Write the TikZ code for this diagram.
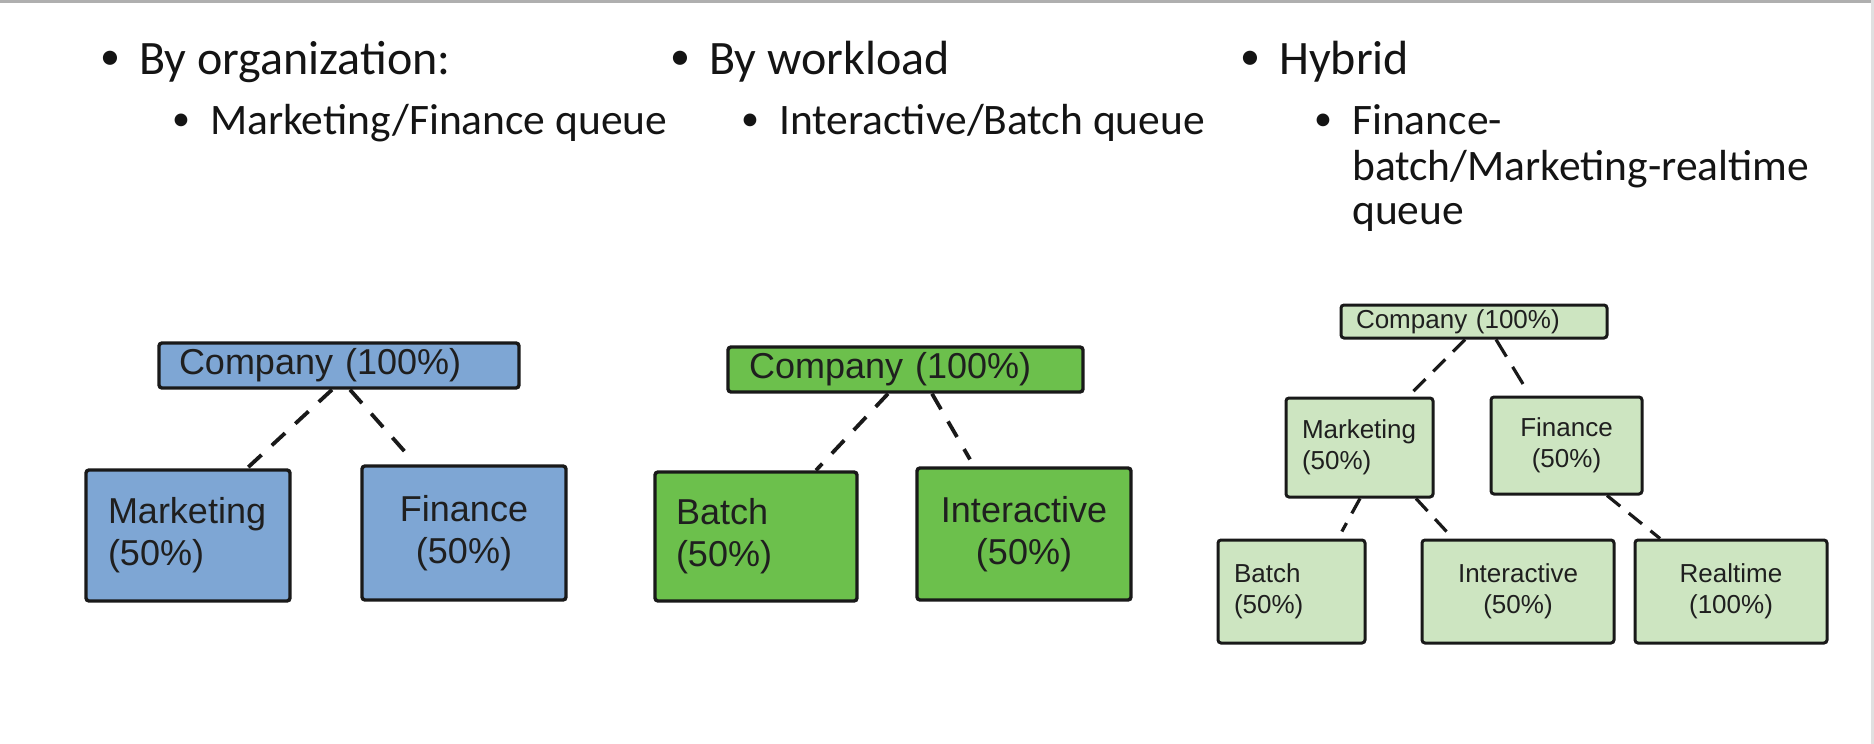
\documentclass[tikz,border=0pt]{standalone}
\usepackage{fontspec}
\setmainfont{Carlito}
\newfontfamily\arialf{Liberation Sans}
\definecolor{orgblue}{RGB}{126,166,212}
\definecolor{wlgreen}{RGB}{108,192,76}
\definecolor{hylight}{RGB}{205,229,193}
\definecolor{edgec}{RGB}{25,25,25}
\definecolor{framegray}{RGB}{175,175,175}
\begin{document}
\begin{tikzpicture}[x=1pt,y=-1pt,
  bigbox/.style={draw=edgec, line width=3.4pt, rounded corners=3pt, inner sep=0pt,
    font=\arialf\fontsize{36}{42}\selectfont, text=black!88},
  smallbox/.style={draw=edgec, line width=3pt, rounded corners=3pt, inner sep=0pt,
    font=\arialf\fontsize{26}{31}\selectfont, text=black!88},
  conn/.style={draw=edgec, line width=3.8pt, dash pattern=on 18pt off 14pt},
  sconn/.style={draw=edgec, line width=3.2pt, dash pattern=on 17pt off 11pt},
  head/.style={anchor=base west, inner sep=0pt, font=\fontsize{48}{58}\selectfont, text=black!92},
  sub/.style={anchor=base west, inner sep=0pt, font=\fontsize{43.5}{52}\selectfont, text=black!92},
  hbul/.style={anchor=center, inner sep=0pt, font=\fontsize{40}{46}\selectfont, text=black!92},
  sbul/.style={anchor=center, inner sep=0pt, font=\fontsize{36}{42}\selectfont, text=black!92},
]
\useasboundingbox (0,0) rectangle (1874,744);
\fill[white] (0,0) rectangle (1874,744);
\fill[framegray] (0,0) rectangle (1874,2.5);
\fill[black!12] (1871,0) rectangle (1874,744);

% bullets and texts
\node[hbul] (b1) at (110,60) {•};
\node[head] (t1) at (139,74) {By organization:};
\node[sbul] (b1s) at (181,122) {•};
\node[sub]  (t1s) at (210,134) {Marketing/Finance queue};

\node[hbul] (b2) at (680,60) {•};
\node[head] (t2) at (709,74) {By workload};
\node[sbul] (b2s) at (750,122) {•};
\node[sub]  (t2s) at (779,134) {Interactive/Batch queue};

\node[hbul] (b3) at (1250,60) {•};
\node[head] (t3) at (1279,74) {Hybrid};
\node[sbul] (b3s) at (1323,122) {•};
\node[sub]  (t3a) at (1352,134) {Finance-};
\node[sub]  (t3b) at (1352,180) {batch/Marketing-realtime};
\node[sub]  (t3c) at (1352,224) {queue};

% By organization tree
\node[bigbox, fill=orgblue, minimum width=360pt, minimum height=45pt, text width=320pt, align=left]
  (oc) at (339,365.5) {Company (100\%)};
\node[bigbox, fill=orgblue, minimum width=204pt, minimum height=131pt, text width=160pt, align=left]
  (om) at (188,535.5) {Marketing\\(50\%)};
\node[bigbox, fill=orgblue, minimum width=204pt, minimum height=134pt, text width=180pt, align=center]
  (of) at (464,533) {Finance\\(50\%)};
\draw[conn] ([xshift=-7pt]oc.south) -- ([xshift=59pt]om.north);
\draw[conn, shorten >=10pt] ([xshift=11pt]oc.south) -- ([xshift=-48pt]of.north);

% By workload tree
\node[bigbox, fill=wlgreen, minimum width=355pt, minimum height=45pt, text width=313pt, align=left]
  (wc) at (905.5,369.5) {Company (100\%)};
\node[bigbox, fill=wlgreen, minimum width=202pt, minimum height=129pt, text width=160pt, align=left]
  (wb) at (756,536.5) {Batch\\(50\%)};
\node[bigbox, fill=wlgreen, minimum width=214pt, minimum height=132pt, text width=200pt, align=center]
  (wi) at (1024,534) {Interactive\\(50\%)};
\draw[conn] ([xshift=-17.5pt]wc.south) -- ([xshift=60pt]wb.north);
\draw[conn, shorten >=8pt] ([xshift=26.5pt]wc.south) -- ([xshift=-50pt]wi.north);

% Hybrid tree
\node[smallbox, fill=hylight, minimum width=266pt, minimum height=33pt, text width=236pt, align=left]
  (hc) at (1474,321.5) {Company (100\%)};
\node[smallbox, fill=hylight, minimum width=147pt, minimum height=99pt, text width=115pt, align=left]
  (hm) at (1359.5,447.5) {Marketing\\(50\%)};
\node[smallbox, fill=hylight, minimum width=151pt, minimum height=97pt, text width=140pt, align=center]
  (hf) at (1566.5,445.5) {Finance\\(50\%)};
\node[smallbox, fill=hylight, minimum width=147pt, minimum height=103pt, text width=115pt, align=left]
  (hb) at (1291.5,591.5) {Batch\\(50\%)};
\node[smallbox, fill=hylight, minimum width=192pt, minimum height=103pt, text width=180pt, align=center]
  (hi) at (1518,591.5) {Interactive\\(50\%)};
\node[smallbox, fill=hylight, minimum width=192pt, minimum height=103pt, text width=180pt, align=center]
  (hr) at (1731,591.5) {Realtime\\(100\%)};
\draw[sconn] ([xshift=-9pt]hc.south) -- ([xshift=48.5pt]hm.north);
\draw[sconn, dash pattern=on 20pt off 12pt, shorten >=9pt] ([xshift=22pt]hc.south) -- ([xshift=-36.5pt]hf.north);
\draw[sconn, shorten >=8pt] ([xshift=0.5pt]hm.south) -- ([xshift=46.5pt]hb.north);
\draw[sconn] ([xshift=56.5pt]hm.south) -- ([xshift=-65pt]hi.north);
\draw[sconn] ([xshift=40.5pt]hf.south) -- ([xshift=-71pt]hr.north);
\end{tikzpicture}
\end{document}
